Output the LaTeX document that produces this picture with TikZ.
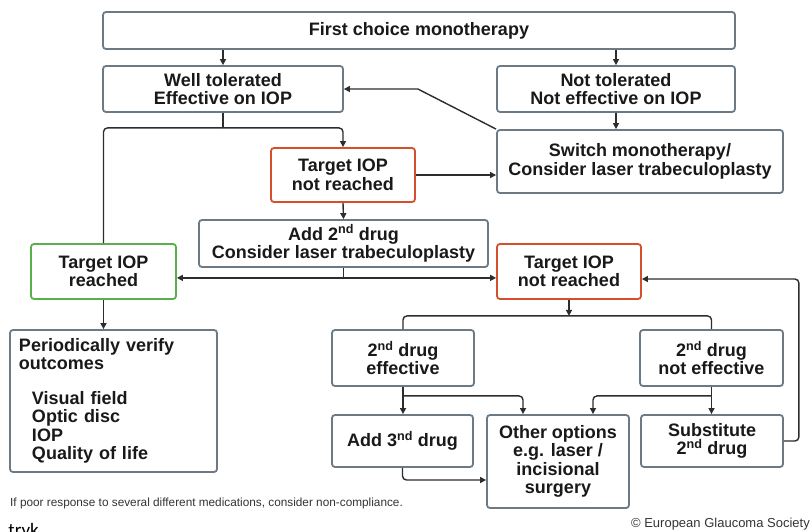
\documentclass[tikz,border=0pt]{standalone}
\usepackage{fontspec}
\setmainfont{Liberation Sans}
\newfontfamily\dkfont{Carlito}
\usetikzlibrary{positioning, arrows.meta, calc}

\definecolor{boxline}{RGB}{108,122,134}
\definecolor{notreach}{RGB}{214,78,44}
\definecolor{reach}{RGB}{88,176,74}
\definecolor{wire}{RGB}{45,45,45}

\begin{document}
\begin{tikzpicture}[
  x=1pt, y=-1pt,
  font=\fontsize{18}{18.5}\selectfont\bfseries,
  box/.style={draw=boxline, fill=white, line width=1.8pt, rounded corners=3pt, align=center,
    inner sep=0pt, text=black!90},
  redbox/.style={box, draw=notreach},
  greenbox/.style={box, draw=reach},
  flow/.style={-{Triangle[length=6pt, width=6pt]}, line width=1.4pt, draw=wire},
  link/.style={line width=1.4pt, draw=wire, rounded corners=4pt},
  note/.style={inner sep=0pt, text=black!80}
]
\useasboundingbox (0,0) rectangle (812,531);

% top of the chart
\node[box, minimum width=632pt, minimum height=37pt] (first) at (419,30.5) {First choice monotherapy};
\node[box, minimum width=240pt, minimum height=46pt] (tol) at (223,89) {Well tolerated\\Effective on IOP};
\node[box, minimum width=238pt, minimum height=46pt] (nottol) at (616,89) {Not tolerated\\Not effective on IOP};
\node[box, minimum width=286pt, minimum height=63pt] (switch) at (640,161.5) {Switch monotherapy/\\Consider laser trabeculoplasty};
\node[redbox, minimum width=144pt, minimum height=54pt] (miss1) at (343,175) {Target IOP\\not reached};
\node[box, minimum width=289pt, minimum height=47pt] (add2) at (343.5,243.5) {Add 2\textsuperscript{nd} drug\\Consider laser trabeculoplasty};

% second level
\node[greenbox, minimum width=145pt, minimum height=55pt] (hit) at (103.5,271.5) {Target IOP\\reached};
\node[redbox, minimum width=144pt, minimum height=55pt] (miss2) at (569,271.5) {Target IOP\\not reached};
\node[box, minimum width=207pt, minimum height=142pt, text width=189pt, align=left] (verify) at (113.5,401)
  {Periodically verify\\outcomes\\[16pt]\hspace*{13pt}Visual field\\\hspace*{13pt}Optic disc\\\hspace*{13pt}IOP\\\hspace*{13pt}Quality of life};
\node[box, minimum width=142pt, minimum height=56pt] (eff) at (403,358) {2\textsuperscript{nd} drug\\effective};
\node[box, minimum width=143pt, minimum height=56pt] (noeff) at (711.5,358) {2\textsuperscript{nd} drug\\not effective};
\node[box, minimum width=141pt, minimum height=52pt] (add3) at (402.5,441) {Add 3\textsuperscript{nd} drug};
\node[box, minimum width=142pt, minimum height=93pt] (other) at (558,461.5) {Other options\\e.g. laser /\\incisional\\surgery};
\node[box, minimum width=142pt, minimum height=52pt] (subst) at (712,441) {Substitute\\2\textsuperscript{nd} drug};

% notes
\node[note, anchor=west, font=\fontsize{11.8}{13}\selectfont] (hint) at (10,503)
  {If poor response to several different medications, consider non-compliance.};
\node[note, anchor=east, font=\fontsize{13}{15}\selectfont] (egs) at (810,524) {© European Glaucoma Society};
\node[note, anchor=base east, font=\dkfont\mdseries\fontsize{19}{20}\selectfont, text=black] (cut) at (39,536) {tryk};

% connectors, top half
\draw[flow] (first.south -| tol.north) -- (tol.north);
\draw[flow] (first.south -| nottol.north) -- (nottol.north);
\draw[flow] (nottol.south) -- (nottol.south |- switch.north);
\draw[flow] (switch.north west) -- ($(tol.east)+(74,0)$) -- (tol.east);
\coordinate (split1) at ($(tol.south)+(0,15)$);
\draw[link] (tol.south) -- (split1);
\draw[flow, rounded corners=4pt] (split1) -| (miss1.north);
\draw[link] (split1) -| (hit.north);
\draw[flow] (miss1.east) -- (miss1.east -| switch.west);
\draw[flow] (miss1.south) -- (add2.north);
\coordinate (split2) at ($(add2.south)+(0,10)$);
\draw[link] (add2.south) -- (split2);
\draw[flow] (split2) -- (split2 -| hit.east);
\draw[flow] (split2) -- (split2 -| miss2.west);
\draw[flow] (hit.south) -- (hit.south |- verify.north);

% connectors, second drug
\draw[flow] (miss2.south) -- ++(0,16) coordinate (split3);
\draw[link] (eff.north) |- (split3) -| (noeff.north);
\coordinate (split4) at ($(eff.south)+(0,9)$);
\draw[flow] (eff.south) -- (eff.south |- add3.north);
\draw[flow, rounded corners=4pt] (split4) -| ($(other.north)+(-35,0)$);
\coordinate (split5) at ($(noeff.south)+(0,9)$);
\draw[flow] (noeff.south) -- (noeff.south |- subst.north);
\draw[flow, rounded corners=4pt] (split5) -| ($(other.north)+(35,0)$);
\draw[flow, rounded corners=4pt] (add3.south) |- ($(other.west)+(0,18.5)$);
\draw[flow, rounded corners=4pt] (subst.east) -- ++(15,0) |- ($(miss2.east)+(0,7.5)$);

\end{tikzpicture}
\end{document}
